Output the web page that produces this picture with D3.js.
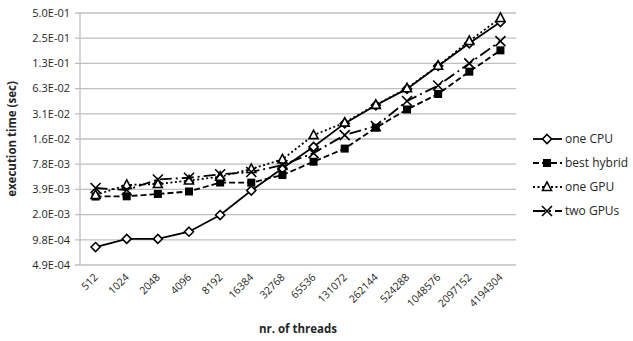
<!DOCTYPE html>
<html>
<head>
<meta charset="utf-8">
<script src="https://cdn.jsdelivr.net/npm/d3@7"></script>
<style>
  html, body { margin: 0; padding: 0; background: #fff; }
  svg { display: block; }
  text { font-family: "Open Sans", "Liberation Sans", sans-serif; fill: #262626; }
</style>
</head>
<body>
<svg id="chart" width="633" height="341"></svg>
<script>
// ---- data ----
const categories = ["512","1024","2048","4096","8192","16384","32768","65536","131072","262144","524288","1048576","2097152","4194304"];
const oneCPU     = [8.0e-4, 1.0e-3, 1.0e-3, 1.22e-3, 1.93e-3, 3.79e-3, 7.0e-3, 1.26e-2, 2.4e-2, 3.95e-2, 6.2e-2, 0.1164, 0.217, 0.39];
const bestHybrid = [3.21e-3, 3.23e-3, 3.44e-3, 3.69e-3, 4.72e-3, 4.7e-3, 5.8e-3, 8.36e-3, 1.2e-2, 2.13e-2, 3.52e-2, 5.39e-2, 9.95e-2, 0.179];
const oneGPU     = [3.35e-3, 4.41e-3, 4.53e-3, 4.99e-3, 5.53e-3, 6.85e-3, 8.9e-3, 1.74e-2, 2.45e-2, 4.0e-2, 6.3e-2, 0.117, 0.231, 0.436];
const twoGPUs    = [4.06e-3, 3.84e-3, 5.13e-3, 5.38e-3, 5.92e-3, 6.3e-3, 7.64e-3, 1.06e-2, 1.74e-2, 2.23e-2, 4.44e-2, 6.8e-2, 0.125, 0.231];
const seriesNames = ["one CPU", "best hybrid", "one GPU", "two GPUs"];
const yTickLabels = ["4.9E-04","9.8E-04","2.0E-03","3.9E-03","7.8E-03","1.6E-02","3.1E-02","6.3E-02","1.3E-01","2.5E-01","5.0E-01"];
const yTickValues = yTickLabels.map((_, i) => Math.pow(2, -11 + i));

const series = [
  {name: seriesNames[0], values: oneCPU,     dash: null,         marker: "diamond"},
  {name: seriesNames[1], values: bestHybrid, dash: "6,3",        marker: "square"},
  {name: seriesNames[2], values: oneGPU,     dash: "2,2.5",      marker: "triangle"},
  {name: seriesNames[3], values: twoGPUs,    dash: "12,4,2,4",   marker: "x"}
];

// ---- layout ----
const svg = d3.select("#chart");
const pLeft = 80, pRight = 516, pTop = 13, pBottom = 265;
const x = d3.scaleBand().domain(categories).range([pLeft, pRight]);
const y = d3.scaleLog().base(2).domain([yTickValues[0], yTickValues[yTickValues.length - 1]]).range([pBottom, pTop]);
const cx = c => x(c) + x.bandwidth() / 2;

// gridlines
svg.append("g").selectAll("line").data(yTickValues).join("line")
  .attr("x1", pLeft - 5).attr("x2", pRight)
  .attr("y1", d => y(d)).attr("y2", d => y(d))
  .attr("stroke", "#bfbfbf").attr("stroke-width", 1.3);

// y axis line
svg.append("line").attr("x1", pLeft).attr("x2", pLeft).attr("y1", pTop).attr("y2", pBottom)
  .attr("stroke", "#bfbfbf").attr("stroke-width", 1.3);

// y tick labels
svg.append("g").selectAll("text").data(yTickValues).join("text")
  .attr("x", pLeft - 10).attr("y", d => y(d)).attr("dy", "0.35em")
  .attr("text-anchor", "end").attr("font-size", 11)
  .text((d, i) => yTickLabels[i]);

// x tick labels (rotated)
svg.append("g").selectAll("text").data(categories).join("text")
  .attr("transform", d => `translate(${cx(d) + 3},${pBottom + 13}) rotate(-45)`)
  .attr("text-anchor", "end").attr("font-size", 10.5)
  .text(d => d);

// axis titles
svg.append("text")
  .attr("transform", `translate(16,${(pTop + pBottom) / 2}) rotate(-90)`)
  .attr("text-anchor", "middle").attr("font-size", 11.5).attr("font-weight", "bold")
  .text("execution time (sec)");
svg.append("text")
  .attr("x", (pLeft + pRight) / 2).attr("y", 333)
  .attr("text-anchor", "middle").attr("font-size", 11.5).attr("font-weight", "bold")
  .text("nr. of threads");

// marker drawing
function drawMarker(g, type, px, py) {
  if (type === "diamond") {
    g.append("path").attr("d", `M${px},${py - 4.5}L${px + 4.5},${py}L${px},${py + 4.5}L${px - 4.5},${py}Z`)
      .attr("fill", "#fff").attr("stroke", "#000").attr("stroke-width", 1.6);
  } else if (type === "square") {
    g.append("rect").attr("x", px - 4).attr("y", py - 4).attr("width", 8).attr("height", 8)
      .attr("fill", "#000");
  } else if (type === "triangle") {
    g.append("path").attr("d", `M${px},${py - 5}L${px + 4.5},${py + 3.5}L${px - 4.5},${py + 3.5}Z`)
      .attr("fill", "#fff").attr("stroke", "#000").attr("stroke-width", 1.6);
  } else if (type === "x") {
    g.append("path").attr("d", `M${px - 5},${py - 5}L${px + 5},${py + 5}M${px - 5},${py + 5}L${px + 5},${py - 5}`)
      .attr("fill", "none").attr("stroke", "#000").attr("stroke-width", 1.6);
  }
}

const line = d3.line().x((d, i) => cx(categories[i])).y(d => y(d));

// draw series: lines then markers, in order
series.forEach(s => {
  svg.append("path").datum(s.values)
    .attr("d", line)
    .attr("fill", "none").attr("stroke", "#000").attr("stroke-width", 1.8)
    .attr("stroke-dasharray", s.dash);
});
series.forEach(s => {
  const g = svg.append("g");
  s.values.forEach((v, i) => drawMarker(g, s.marker, cx(categories[i]), y(v)));
});

// legend
const legendY = [139, 163, 187, 211];
series.forEach((s, i) => {
  const g = svg.append("g");
  const ly = legendY[i];
  g.append("line").attr("x1", 533).attr("x2", 562).attr("y1", ly).attr("y2", ly)
    .attr("stroke", "#000").attr("stroke-width", 1.8).attr("stroke-dasharray", s.dash);
  drawMarker(g, s.marker, 547, ly);
  g.append("text").attr("x", 565).attr("y", ly).attr("dy", "0.35em")
    .attr("font-size", 12).text(s.name);
});
</script>
</body>
</html>
